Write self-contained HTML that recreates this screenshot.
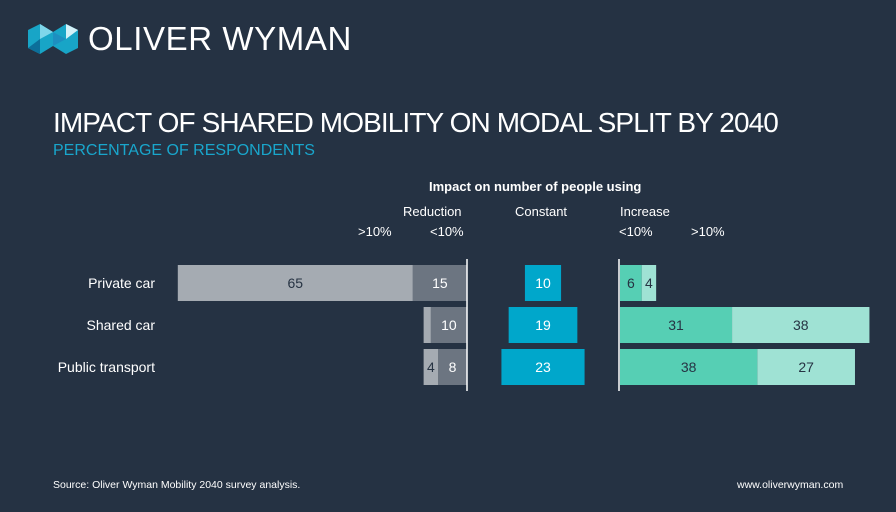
<!DOCTYPE html>
<html><head><meta charset="utf-8"><style>
body{margin:0;width:896px;height:512px;background:#253243;font-family:"Liberation Sans",sans-serif;overflow:hidden;position:relative}
.t{position:absolute;white-space:nowrap}
</style></head><body>
<div class="t" style="left:28px;top:24px">
<svg width="50" height="30" viewBox="0 0 50 30"><polygon points="0,6 12,0 25,8 38,0 50,6 50,24 38,30 25,22 12,30 0,24" fill="#18a5c7"/><polygon points="12,0 25,8 12,15" fill="#7fd6ea"/><polygon points="38,0 50,6 38,15" fill="#d4f1f8"/><polygon points="0,24 12,30 12,15" fill="#0c6f9a"/><polygon points="25,8 38,15 25,22" fill="#1d8fc0"/></svg></div>
<div class="t" style="left:88px;top:20px;color:#fff;font-size:33px;letter-spacing:0.6px">OLIVER WYMAN</div>
<div class="t" style="left:53px;top:107px;color:#fff;font-size:28px;letter-spacing:-0.9px">IMPACT OF SHARED MOBILITY ON MODAL SPLIT BY 2040</div>
<div class="t" style="left:53px;top:142px;color:#19a6cc;font-size:16px">PERCENTAGE OF RESPONDENTS</div>
<div class="t" style="left:429px;top:179px;color:#fff;font-size:13px;font-weight:bold">Impact on number of people using</div>
<div class="t" style="left:403px;top:204px;color:#fff;font-size:13px">Reduction</div>
<div class="t" style="left:515px;top:204px;color:#fff;font-size:13px">Constant</div>
<div class="t" style="left:620px;top:204px;color:#fff;font-size:13px">Increase</div>
<div class="t" style="left:358px;top:224px;color:#fff;font-size:13px">&gt;10%</div>
<div class="t" style="left:430px;top:224px;color:#fff;font-size:13px">&lt;10%</div>
<div class="t" style="left:619px;top:224px;color:#fff;font-size:13px">&lt;10%</div>
<div class="t" style="left:691px;top:224px;color:#fff;font-size:13px">&gt;10%</div>
<svg id="c" width="896" height="512" style="position:absolute;left:0;top:0"></svg>
<div class="t" style="left:53px;top:479px;color:#fff;font-size:10.5px">Source: Oliver Wyman Mobility 2040 survey analysis.</div>
<div class="t" style="left:737px;top:479px;color:#fff;font-size:10.5px">www.oliverwyman.com</div>
<script>
const categories=["Private car","Shared car","Public transport"];
const redBig=[65,2,4];
const redSmall=[15,10,8];
const constant=[10,19,23];
const incSmall=[6,31,38];
const incBig=[4,38,27];
const showRedBig=[true,false,true];
const S=3.615,REDX=467,CONX=543,INCX=620,Y0=265,STEP=42,H=36;
const svg=document.getElementById('c');
const NS='http://www.w3.org/2000/svg';
function rect(x,y,w,h,fill,name){const r=document.createElementNS(NS,'rect');r.setAttribute('x',x);r.setAttribute('y',y);r.setAttribute('width',w);r.setAttribute('height',h);r.setAttribute('fill',fill);


svg.appendChild(r);}
function text(x,y,s,fill,name,anchor){const t=document.createElementNS(NS,'text');t.setAttribute('x',x);t.setAttribute('y',y);t.setAttribute('fill',fill);t.setAttribute('font-size','14');t.setAttribute('text-anchor',anchor||'middle');t.setAttribute('font-family','Liberation Sans, sans-serif');t.textContent=s;


svg.appendChild(t);}
categories.forEach((c,i)=>{
 const y=Y0+i*STEP,ty=y+H/2+5;
 text(155,ty,c,'#fff','category-label','end');
 const ws=redSmall[i]*S,wb=redBig[i]*S;
 rect(REDX-ws,y,ws,H,'#6c7581','bar-reduction-small');
 rect(REDX-ws-wb,y,wb,H,'#a5abb2','bar-reduction-large');
 text(REDX-ws/2,ty,redSmall[i],'#fff','value-label');
 if(showRedBig[i])text(REDX-ws-wb/2,ty,redBig[i],'#263343','value-label');
 const wc=constant[i]*S;
 rect(CONX-wc/2,y,wc,H,'#00a7cb','bar-constant');
 text(CONX,ty,constant[i],'#fff','value-label');
 const wi=incSmall[i]*S,wj=incBig[i]*S;
 rect(INCX,y,wi,H,'#56cfb4','bar-increase-small');
 rect(INCX+wi,y,wj,H,'#9fe2d4','bar-increase-large');
 text(INCX+wi/2,ty,incSmall[i],'#263343','value-label');
 text(INCX+wi+wj/2,ty,incBig[i],'#263343','value-label');
});
[REDX,INCX-1].forEach(x=>{const l=document.createElementNS(NS,'line');l.setAttribute('x1',x);l.setAttribute('x2',x);l.setAttribute('y1',259);l.setAttribute('y2',391);l.setAttribute('stroke','#fff');l.setAttribute('stroke-width','1.5');


svg.appendChild(l);});
</script>
</body></html>
